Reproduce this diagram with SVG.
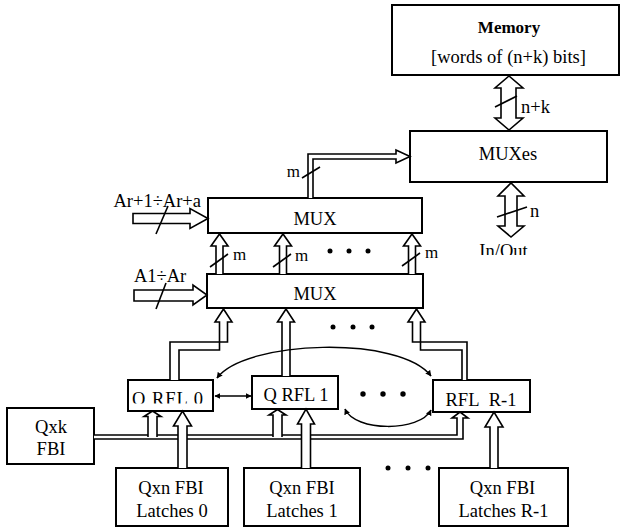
<svg xmlns="http://www.w3.org/2000/svg" width="621" height="527" viewBox="0 0 621 527">
<style>
.box{fill:#fff;stroke:#000;stroke-width:2}
.t{font-family:"Liberation Serif","Times New Roman",serif;font-size:18.5px;fill:#000;text-anchor:middle}
.tl{font-family:"Liberation Serif","Times New Roman",serif;font-size:18.5px;fill:#000}
.ts{font-family:"Liberation Serif","Times New Roman",serif;font-size:17px;fill:#000}
.h{fill:#fff;stroke:#000;stroke-width:1.6;stroke-linejoin:miter}
.ln{fill:none;stroke:#000;stroke-width:1.6}
.sl{fill:none;stroke:#000;stroke-width:1.6}
.cv{fill:none;stroke:#000;stroke-width:1.5}
</style>
<defs>
<marker id="ah" viewBox="0 0 10 10" refX="9" refY="5" markerWidth="6" markerHeight="6" orient="auto-start-reverse" markerUnits="userSpaceOnUse">
<path d="M0,0 L10,5 L0,10 Z" fill="#000"/>
</marker>
<clipPath id="clipIO"><rect x="0" y="0" width="621" height="255"/></clipPath>
<clipPath id="clipR0"><rect x="0" y="0" width="621" height="403.5"/></clipPath>
</defs>

<g id="memory">
<rect class="box" x="392" y="5" width="227" height="70"/>
<text class="t" x="509" y="33" style="font-weight:bold;font-size:17px">Memory</text>
<text class="t" x="508.5" y="63">[words of (n+k) bits]</text>
</g>

<g id="muxes">
<rect class="box" x="410" y="131" width="197" height="51"/>
<text class="t" x="508" y="160">MUXes</text>
</g>

<g id="mux-upper">
<rect class="box" x="208" y="198" width="214" height="35"/>
<text class="t" x="315" y="225">MUX</text>
</g>

<g id="mux-lower">
<rect class="box" x="207" y="274" width="216" height="34"/>
<text class="t" x="315" y="300">MUX</text>
</g>

<g id="rfl0">
<rect class="box" x="128" y="380" width="85" height="31"/>
<text class="t" x="168" y="405" clip-path="url(#clipR0)" style="letter-spacing:1px">Q RFL 0</text>
</g>

<g id="rfl1">
<rect class="box" x="252" y="376" width="86" height="33"/>
<text class="t" x="296" y="401">Q RFL 1</text>
</g>

<g id="rflR">
<rect class="box" x="433" y="380" width="97" height="32"/>
<text class="t" x="481" y="406">RFL&#160; R-1</text>
</g>

<g id="qxk">
<rect class="box" x="7" y="408" width="87" height="56"/>
<text class="t" x="51" y="433">Qxk</text>
<text class="t" x="51" y="455">FBI</text>
</g>

<g id="latches0">
<rect class="box" x="116" y="468" width="112" height="58"/>
<text class="t" x="171" y="494">Qxn FBI</text>
<text class="t" x="172" y="517">Latches 0</text>
</g>

<g id="latches1">
<rect class="box" x="244" y="468" width="116" height="58"/>
<text class="t" x="302" y="494">Qxn FBI</text>
<text class="t" x="302" y="517">Latches 1</text>
</g>

<g id="latchesR">
<rect class="box" x="439" y="468" width="129" height="58"/>
<text class="t" x="502.5" y="494">Qxn FBI</text>
<text class="t" x="503.5" y="517">Latches R-1</text>
</g>

<g id="connectors">
<!-- Memory <-> MUXes -->
<path class="h" d="M501,88 H495 L509,76 L523,88 H516 V118 H523 L509,130 L495,118 H501 Z"/>
<line class="sl" x1="495" y1="107" x2="517" y2="96"/>
<text class="tl" x="521" y="113">n+k</text>

<!-- MUXes <-> In/Out -->
<path class="h" d="M505,196 H498 L511,183 L524,196 H517 V226 H524 L511,237 L498,226 H505 Z"/>
<line class="sl" x1="497" y1="217" x2="527" y2="207"/>
<text class="tl" x="530" y="217">n</text>
<text class="t" x="503.5" y="257" clip-path="url(#clipIO)">In/Out</text>

<!-- upper MUX -> MUXes (m) -->
<path class="h" d="M308,198 V154 H396 V150 L410,156.5 L396,163 V159 H313 V198"/>
<line class="sl" x1="302" y1="178" x2="320" y2="167"/>
<text class="ts" x="300" y="177" text-anchor="end">m</text>

<!-- address inputs -->
<path class="h" d="M133,213.5 H190 V208.5 L208,218.5 L190,228.5 V223.5 H133 Z"/>
<line class="sl" x1="156" y1="234" x2="168" y2="206"/>
<text class="tl" x="201" y="207" text-anchor="end">Ar+1÷Ar+a</text>

<path class="h" d="M134,290 H193 V285 L207,295 L193,305 V301 H134 Z"/>
<line class="sl" x1="156" y1="309" x2="166" y2="283"/>
<text class="tl" x="134" y="282">A1÷Ar</text>

<!-- lower MUX -> upper MUX -->
<path class="h" d="M216,274 V246 H211 L219.5,234 L228,246 H223 V274"/>
<line class="sl" x1="210" y1="267" x2="228" y2="254"/>
<text class="ts" x="233" y="260">m</text>
<path class="h" d="M279.5,274 V246 H274.5 L283,234 L291.5,246 H286.5 V274"/>
<line class="sl" x1="273" y1="267" x2="291" y2="254"/>
<text class="ts" x="295" y="261">m</text>
<path class="h" d="M408.5,274 V246 H403.5 L412,234 L420.5,246 H415.5 V274"/>
<line class="sl" x1="402" y1="266" x2="420" y2="253"/>
<text class="ts" x="425" y="258">m</text>
<circle cx="330" cy="251" r="2.5"/>
<circle cx="349" cy="251" r="2.5"/>
<circle cx="368" cy="251" r="2.5"/>

<!-- RFLs -> lower MUX -->
<path class="h" d="M170,380 V342 H227.5 V322 H232 L223.5,309 L215,322 H219.5 V350 H179 V380"/>
<path class="h" d="M282,376 V322 H277.5 L286,309 L294.5,322 H290 V376"/>
<path class="h" d="M467,380 V342 H412.5 V322 H408 L416.5,309 L425,322 H420.5 V350 H462 V380"/>
<circle cx="333" cy="327" r="2.5"/>
<circle cx="353" cy="327" r="2.5"/>
<circle cx="372" cy="327" r="2.5"/>

<!-- RFL loop curves -->
<path class="cv" d="M217,378 C245,340 400,335 431,376" marker-start="url(#ah)" marker-end="url(#ah)"/>
<path class="cv" d="M345,409 C355,432 420,432 431,410" marker-start="url(#ah)" marker-end="url(#ah)"/>
<line class="cv" x1="215" y1="396" x2="251" y2="396" marker-start="url(#ah)" marker-end="url(#ah)"/>
<circle cx="363" cy="394" r="2.7"/>
<circle cx="383" cy="394" r="2.7"/>
<circle cx="403" cy="394" r="2.7"/>

<!-- Qxk FBI bus -->
<path class="h" d="M94,435 H457 V418 H452 L460,412 L468,418 H463 V439 H94"/>
<path class="h" d="M148,437 V416.5 H144 L152.5,411 L161,416.5 H157 V437"/>
<path class="h" d="M273,437 V415 H269 L277.5,409.5 L286,415 H282 V437"/>

<!-- Latches -> RFLs -->
<path class="h" d="M178,468 V426 H173.5 L182.5,411 L191.5,426 H187 V468"/>
<path class="h" d="M301.5,468 V424 H297.5 L306,409 L314.5,424 H310.5 V468"/>
<path class="h" d="M490,468 V427 H485 L494,412 L503,427 H498 V468"/>
<circle cx="388" cy="468" r="2.5"/>
<circle cx="408" cy="468" r="2.5"/>
<circle cx="428" cy="468" r="2.5"/>
</g>
</svg>
